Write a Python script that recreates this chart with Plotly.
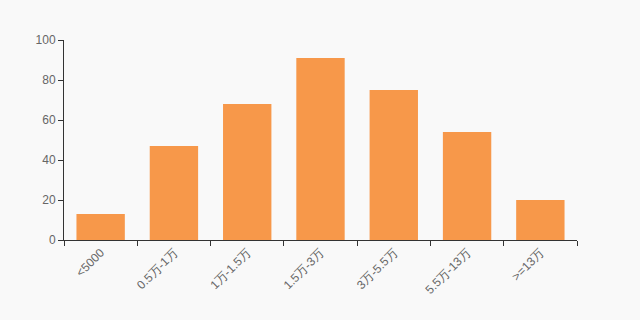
import plotly.graph_objects as go

categories = ["<5000", "0.5万-1万", "1万-1.5万", "1.5万-3万", "3万-5.5万", "5.5万-13万", ">=13万"]
values = [13, 47, 68, 91, 75, 54, 20]
y_ticks = [0, 20, 40, 60, 80, 100]

fig = go.Figure(go.Bar(
    x=categories, y=values,
    marker=dict(color="#F7984A", line=dict(width=0)),
    hoverinfo="x+y",
))

fig.update_layout(
    width=640, height=320,
    margin=dict(l=64, r=63, t=40, b=80),
    paper_bgcolor="#F9F9F9", plot_bgcolor="#F9F9F9",
    bargap=0.34,
    showlegend=False,
    font=dict(family="Liberation Sans, Arial, sans-serif", size=12, color="#666"),
    xaxis=dict(
        type="category",
        showline=True, linecolor="#333", linewidth=1,
        ticks="outside", ticklen=5, tickcolor="#333",
        tickson="boundaries",
        tickangle=-45,
        showgrid=False, zeroline=False,
        tickfont=dict(size=12, color="#666"),
    ),
    yaxis=dict(
        range=[0, 100],
        tickvals=y_ticks,
        showline=True, linecolor="#333", linewidth=1,
        ticks="outside", ticklen=5, tickcolor="#333",
        showgrid=False, zeroline=False,
        tickfont=dict(size=12, color="#666"),
    ),
)

fig.write_html("out.html")
